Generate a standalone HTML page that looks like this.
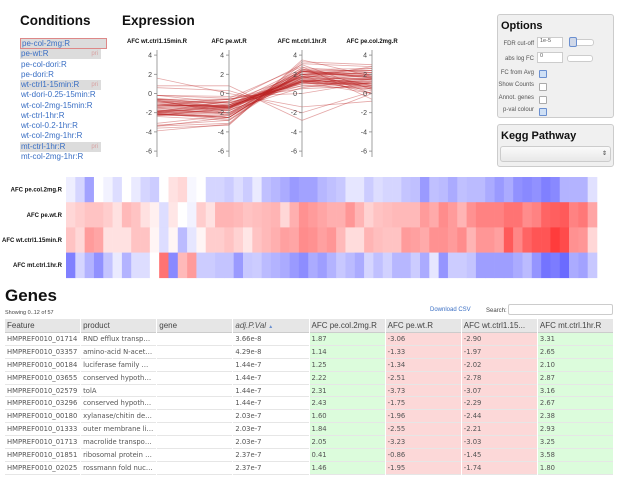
<!DOCTYPE html>
<html><head><meta charset="utf-8">
<style>
body{margin:0;width:626px;height:480px;overflow:hidden;background:#fff;font-family:"Liberation Sans",Arial,sans-serif;position:relative}
.abs{position:absolute}
h1{position:absolute;margin:0;font-weight:bold;color:#111}
.cond{position:absolute;left:20px;width:80px;height:10px;font-size:8px;line-height:10px;color:#3a6fc4;padding-left:1px}
.cond.sel{background:#dcdcdc}
.cond .pri{position:absolute;right:3px;color:#d8a0a0;font-size:6px}
.panel{position:absolute;background:#f0f0f0;border:1px solid #ccc;border-radius:3px}
.opt{position:absolute;font-size:6px;color:#555;text-align:right;width:38px;left:-2px}
.cb{position:absolute;width:6px;height:6px;border:1px solid #aaa;background:#fff;border-radius:1px;left:41px}
.cb.on{background:#cfe0f5;border-color:#6a8fd0}
table{border-collapse:separate;border-spacing:1px 0;font-size:7.5px;position:absolute;left:4px;top:319px;width:610px;table-layout:fixed;font-family:"DejaVu Sans",sans-serif}
th{background:#e6e6e6;font-weight:normal;text-align:left;color:#444;height:13px;padding:0 2px;border-bottom:1px solid #ccc;white-space:nowrap;overflow:hidden;font-size:8px;font-family:"Liberation Sans",sans-serif;text-overflow:ellipsis}
td{height:11.9px;padding:0 2px;color:#555;white-space:nowrap;overflow:hidden;border-bottom:1px solid #e6e6e6;font-size:6.8px;text-overflow:ellipsis}
td.g{background:#dcfcdc} td.r{background:#fcd8d8}
</style></head><body>
<h1 style="left:20px;top:13px;font-size:13.5px">Conditions</h1>
<h1 style="left:122px;top:13px;font-size:13.5px">Expression</h1>
<h1 style="left:5px;top:286px;font-size:17px">Genes</h1>

<div>
<div class="cond sel" style="top:38px;border:1px solid #d88;width:84px;height:9px;left:20px">pe-col-2mg:R</div>
<div class="cond sel" style="top:49px">pe-wt:R<span class="pri">pri</span></div>
<div class="cond" style="top:59.5px">pe-col-dori:R</div>
<div class="cond" style="top:69.5px">pe-dori:R</div>
<div class="cond sel" style="top:80px">wt-ctrl1-15min:R<span class="pri">pri</span></div>
<div class="cond" style="top:90px">wt-dori-0.25-15min:R</div>
<div class="cond" style="top:100.5px">wt-col-2mg-15min:R</div>
<div class="cond" style="top:110.5px">wt-ctrl-1hr:R</div>
<div class="cond" style="top:121px">wt-col-0.2-1hr:R</div>
<div class="cond" style="top:131px">wt-col-2mg-1hr:R</div>
<div class="cond sel" style="top:141.5px">mt-ctrl-1hr:R<span class="pri">pri</span></div>
<div class="cond" style="top:151.5px">mt-col-2mg-1hr:R</div>
</div>

<svg id="pc" class="abs" style="left:0;top:0" width="626" height="290"></svg>

<div class="panel" style="left:497px;top:14px;width:115px;height:102px">
<div class="abs" style="left:3px;top:5px;font-size:11px;font-weight:bold;color:#111">Options</div>
<div class="opt" style="top:26px">FDR cut-off</div>
<div class="abs" style="left:39px;top:22px;width:22px;height:9px;background:#fff;border:1px solid #ccc;font-size:5.5px;color:#555;padding-left:2px">1e-5</div>
<div class="abs" style="left:72px;top:24px;width:22px;height:5px;border:1px solid #ccc;border-radius:3px;background:#fff"></div>
<div class="abs" style="left:71px;top:22px;width:6px;height:8px;border:1px solid #6a8fd0;background:#d0d8e8;border-radius:2px"></div>
<div class="opt" style="top:41px">abs log FC</div>
<div class="abs" style="left:39px;top:37px;width:22px;height:9px;background:#fff;border:1px solid #ccc;font-size:5.5px;color:#555;padding-left:2px">0</div>
<div class="abs" style="left:69px;top:40px;width:24px;height:5px;border:1px solid #ccc;border-radius:3px;background:#fff"></div>
<div class="opt" style="top:55px">FC from Avg</div><div class="cb on" style="top:55px"></div>
<div class="opt" style="top:67px">Show Counts</div><div class="cb" style="top:68px"></div>
<div class="opt" style="top:80px">Annot. genes</div><div class="cb" style="top:81px"></div>
<div class="opt" style="top:92px">p-val colour</div><div class="cb on" style="top:93px"></div>
</div>
<div class="panel" style="left:497px;top:124px;width:115px;height:41px">
<div class="abs" style="left:3px;top:5px;font-size:11px;font-weight:bold;color:#111">Kegg Pathway</div>
<div class="abs" style="left:2px;top:21px;width:109px;height:14px;background:linear-gradient(#fafafa,#e8e8e8);border:1px solid #ccc;border-radius:3px;font-size:6px;text-align:right;line-height:14px;color:#333"><span style="padding-right:3px">⇕</span></div>
</div>

<svg id="hm" class="abs" style="left:0;top:170px" width="626" height="112"></svg>

<div class="abs" style="left:5px;top:310px;font-size:5.5px;color:#444">Showing 0..12 of 57</div>
<div class="abs" style="left:430px;top:307px;font-size:6px;color:#3a6fc4">Download CSV</div>
<div class="abs" style="left:486px;top:308px;font-size:6px;color:#444">Search:</div>
<div class="abs" style="left:508px;top:304px;width:103px;height:9px;border:1px solid #ccc;border-radius:2px;background:#fff"></div>

<table>
<thead><tr>
<th>Feature</th><th>product</th><th>gene</th><th style="font-style:italic;color:#555">adj.P.Val <span style="color:#6a8fd0;font-size:5px">▲</span></th><th>AFC pe.col.2mg.R</th><th>AFC pe.wt.R</th><th>AFC wt.ctrl1.15...</th><th>AFC mt.ctrl.1hr.R</th>
</tr></thead><tbody id="tb"></tbody></table>

<script>
const axesNames=["AFC wt.ctrl1.15min.R","AFC pe.wt.R","AFC mt.ctrl.1hr.R","AFC pe.col.2mg.R"];
const yTicks=[4,2,0,-2,-4,-6];
const peCol=[0.4,1.0,2.2,0,0.3,0.8,0,0.5,1.0,1.2,0,-0.6,-0.8,0.2,0,1.0,1.0,1.2,0.8,1.2,0.5,1.5,1.7,2.0,2.4,2.2,2.2,1.7,1.5,1.3,0.6,0.6,1.2,0.8,1.0,1.0,1.4,1.5,2.4,1.5,1.6,2.0,1.5,1.6,1.6,2.0,2.4,2.0,2.6,2.8,2.6,3.0,2.8,1.8,1.8,1.8,0.7];
const peWt=[-0.8,-1.0,-1.2,-1.2,-1.0,-0.6,-1.4,-1.2,-0.6,-0.3,0.8,-0.5,0,0.3,-1.0,-0.6,-1.5,-1.5,-1.4,-1.2,-1.3,-1.4,-1.5,-0.8,-1.6,-2.2,-2.0,-1.8,-1.6,-1.6,-2.1,-1.5,-0.9,-1.2,-1.3,-1.4,-1.4,-1.4,-2.0,-1.7,-2.3,-2.0,-1.5,-2.2,-2.5,-2.5,-2.5,-2.8,-2.8,-2.3,-2.5,-3.1,-3.2,-3.3,-2.5,-2.7,-1.8];
const wtCtrl=[-1.2,-0.8,-2.0,-1.8,-0.6,-0.6,-0.6,-1.2,-1.2,-0.2,0.8,-0.2,1.6,0.6,-0.2,-1.0,-1.0,-1.2,-0.9,-0.5,-1.2,-1.4,-1.6,-1.9,-1.8,-2.3,-2.2,-1.9,-2.1,-1.4,-0.7,-0.7,-1.5,-1.3,-1.2,-1.2,-2.0,-1.9,-1.7,-2.2,-2.2,-2.0,-2.3,-1.5,-2.1,-2.1,-1.9,-3.3,-2.4,-3.1,-3.4,-3.4,-3.9,-3.6,-2.2,-2.1,-0.8];
const mtCtrl=[3.0,1.0,1.8,2.6,1.4,0.5,1.8,0.8,0.8,0,-2.8,2.8,-1.4,-2.0,1.2,1.2,1.4,1.4,2.4,1.3,1.2,1.6,1.8,2.0,2.4,2.7,2.0,2.3,1.8,1.3,1.6,2.0,1.0,1.5,1.1,1.7,1.7,1.2,2.0,0.6,2.5,1.2,1.2,1.4,2.3,2.3,2.3,2.3,2.0,1.6,2.5,3.3,3.1,3.5,2.0,2.2,1.3];
const NS="http://www.w3.org/2000/svg";
function mk(p,t,a){const e=document.createElementNS(NS,t);for(const k in a)e.setAttribute(k,a[k]);p.appendChild(e);return e;}
const pc=document.getElementById('pc');
const axX=[157,229,302,372];
const y=v=>93.5-v*9.6;
const series=[wtCtrl,peWt,mtCtrl,peCol];
for(let i=0;i<peCol.length;i++){
  const pts=series.map((s,j)=>axX[j]+','+y(s[i]).toFixed(1)).join(' ');
  const l=mk(pc,'polyline',{points:pts,fill:'none',stroke:'#b22',"stroke-opacity":0.4,"stroke-width":0.8});
  
  
}
axesNames.forEach((n,j)=>{
  const g=mk(pc,'g',{});
  
  
  mk(g,'line',{x1:axX[j],x2:axX[j],y1:50,y2:157,stroke:'#888','stroke-width':0.8});
  yTicks.forEach(t=>{mk(g,'line',{x1:axX[j]-3,x2:axX[j],y1:y(t),y2:y(t),stroke:'#888','stroke-width':0.8});
    const tx=mk(g,'text',{x:axX[j]-5,y:y(t)+2.5,'font-size':7,'text-anchor':'end',fill:'#444'});tx.textContent=t;});
  const lb=mk(g,'text',{x:axX[j],y:43,'font-size':6,'font-weight':'bold','text-anchor':'middle',fill:'#111'});lb.textContent=n;
});
const hm=document.getElementById('hm');
const rowNames=["AFC pe.col.2mg.R","AFC pe.wt.R","AFC wt.ctrl1.15min.R","AFC mt.ctrl.1hr.R"];
const rows=[peCol,peWt,wtCtrl,mtCtrl];
const cw=531/57,rh=25.2;
function col(v){const t=Math.min(Math.abs(v)/4.5,1);
  if(v>=0){const c=Math.round(255-t*190);return `rgb(${c},${c},255)`;}
  const c=Math.round(255-t*225);return `rgb(255,${c},${c})`;}
rows.forEach((r,ri)=>{
  const lb=mk(hm,'text',{x:62,y:7+ri*rh+rh/2+2,'font-size':6,'font-weight':'bold','text-anchor':'end',fill:'#111'});lb.textContent=rowNames[ri];
  
  
  r.forEach((v,ci)=>{const c=mk(hm,'rect',{x:(66+ci*cw).toFixed(2),y:(7+ri*rh).toFixed(2),width:(cw+0.3).toFixed(2),height:rh+0.3,fill:col(v)});
    
    });
});
const feats=["HMPREF0010_01714","HMPREF0010_03357","HMPREF0010_00184","HMPREF0010_03655","HMPREF0010_02579","HMPREF0010_03296","HMPREF0010_00180","HMPREF0010_01333","HMPREF0010_01713","HMPREF0010_01851","HMPREF0010_02025"];
const prods=["RND efflux transporter","amino-acid N-acetyltr...","luciferase family mono...","conserved hypothetica...","tolA","conserved hypothetica...","xylanase/chitin deacet...","outer membrane lipop...","macrolide transporter","ribosomal protein L31","rossmann fold nucleot..."];
const pvals=["3.66e-8","4.29e-8","1.44e-7","1.44e-7","1.44e-7","1.44e-7","2.03e-7","2.03e-7","2.03e-7","2.37e-7","2.37e-7"];
const tPeCol=["1.87","1.14","1.25","2.22","2.31","2.43","1.60","1.84","2.05","0.41","1.46"];
const tPeWt=["-3.06","-1.33","-1.34","-2.51","-3.73","-1.75","-1.96","-2.55","-3.23","-0.86","-1.95"];
const tWt=["-2.90","-1.97","-2.02","-2.78","-3.07","-2.29","-2.44","-2.21","-3.03","-1.45","-1.74"];
const tMt=["3.31","2.65","2.10","2.87","3.16","2.67","2.38","2.93","3.25","3.58","1.80"];
const tb=document.getElementById('tb');
feats.forEach((f,i)=>{const tr=document.createElement('tr');
  
  
  tr.innerHTML=`<td>${f}</td><td>${prods[i]}</td><td></td><td>${pvals[i]}</td><td class="g">${tPeCol[i]}</td><td class="r">${tPeWt[i]}</td><td class="r">${tWt[i]}</td><td class="g">${tMt[i]}</td>`;
  tb.appendChild(tr);});
</script>
</body></html>
